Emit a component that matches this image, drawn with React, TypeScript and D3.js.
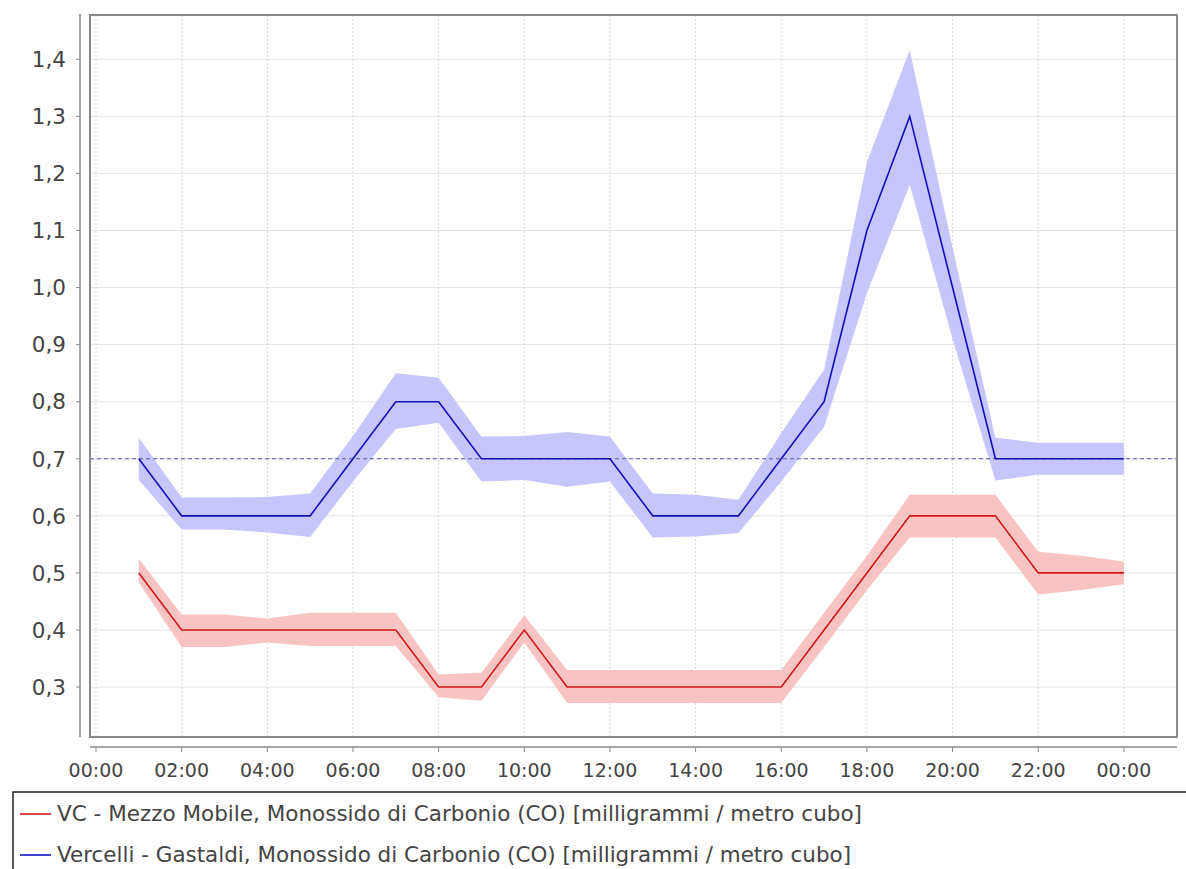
import React from "react";
import * as d3 from "d3";

const hours = [1,2,3,4,5,6,7,8,9,10,11,12,13,14,15,16,17,18,19,20,21,22,23,24];

const vcValues = [0.5,0.4,0.4,0.4,0.4,0.4,0.4,0.3,0.3,0.4,0.3,0.3,0.3,0.3,0.3,0.3,0.4,0.5,0.6,0.6,0.6,0.5,0.5,0.5];
const vcUpper = [0.525,0.427,0.427,0.42,0.43,0.43,0.43,0.322,0.325,0.426,0.33,0.33,0.33,0.33,0.33,0.33,0.43,0.53,0.637,0.637,0.637,0.537,0.53,0.52];
const vcLower = [0.483,0.37,0.37,0.378,0.372,0.372,0.372,0.282,0.276,0.378,0.272,0.272,0.272,0.272,0.272,0.272,0.37,0.47,0.562,0.562,0.562,0.462,0.47,0.48];

const vgValues = [0.7,0.6,0.6,0.6,0.6,0.7,0.8,0.8,0.7,0.7,0.7,0.7,0.6,0.6,0.6,0.7,0.8,1.1,1.3,1.0,0.7,0.7,0.7,0.7];
const vgUpper = [0.737,0.632,0.632,0.633,0.639,0.74,0.85,0.842,0.739,0.74,0.747,0.739,0.639,0.637,0.628,0.745,0.856,1.22,1.416,1.07,0.737,0.728,0.728,0.728];
const vgLower = [0.663,0.576,0.576,0.571,0.563,0.66,0.752,0.763,0.66,0.663,0.651,0.66,0.562,0.564,0.57,0.66,0.756,0.99,1.18,0.91,0.662,0.672,0.672,0.672];

const xTickHours = [0,2,4,6,8,10,12,14,16,18,20,22,24];
const xTickLabels = ["00:00","02:00","04:00","06:00","08:00","10:00","12:00","14:00","16:00","18:00","20:00","22:00","00:00"];
const yTicks = [0.3,0.4,0.5,0.6,0.7,0.8,0.9,1.0,1.1,1.2,1.3,1.4];
const markerValue = 0.7;

const legendLabels = [
  "VC - Mezzo Mobile, Monossido di Carbonio (CO) [milligrammi / metro cubo]",
  "Vercelli - Gastaldi, Monossido di Carbonio (CO) [milligrammi / metro cubo]",
];
const legendColors = ["#d01818", "#1010c0"];

const W = 1186, H = 869;
const plotL = 90, plotR = 1177, plotT = 15, plotB = 737;

export default function App() {
  const x = d3.scaleLinear().domain([-0.14, 25.24]).range([plotL, plotR]);
  const y = d3.scaleLinear().domain([0.2125, 1.4776]).range([plotB, plotT]);

  const area = (up: number[], lo: number[]) =>
    d3.area<number>().x((h) => x(h)).y0((_, i) => y(lo[i])).y1((_, i) => y(up[i]))(hours) || "";
  const line = (v: number[]) =>
    d3.line<number>().x((h) => x(h)).y((_, i) => y(v[i]))(hours) || "";

  const font = "'DejaVu Sans', Verdana, sans-serif";
  const textCol = "#444";
  const legendLens = [805, 794];

  return (
    <svg width={W} height={H} viewBox={`0 0 ${W} ${H}`} style={{ position: "absolute", left: 0, top: 0, background: "#fff" }}>
      <rect x={0} y={0} width={W} height={H} fill="#fff" />
      {yTicks.map((t) => (
        <line key={"hg" + t} x1={plotL} x2={plotR} y1={y(t)} y2={y(t)} stroke="#e4e4e4" strokeWidth={1} />
      ))}
      {xTickHours.map((h, i) => (
        <line key={"vg" + i} x1={x(h)} x2={x(h)} y1={plotT} y2={plotB} stroke="#d8d8d8" strokeWidth={1} strokeDasharray="2,2" />
      ))}
      <path d={area(vgUpper, vgLower)} fill="#c6c6fa" />
      <path d={area(vcUpper, vcLower)} fill="#f8c3c3" />
      <line x1={plotL} x2={plotR} y1={y(markerValue)} y2={y(markerValue)} stroke="#5555aa" strokeWidth={1} strokeDasharray="4,3" />
      <path d={line(vgValues)} fill="none" stroke="#1010b8" strokeWidth={1.6} />
      <path d={line(vcValues)} fill="none" stroke="#d01818" strokeWidth={1.6} />
      <rect x={plotL} y={plotT} width={plotR - plotL} height={plotB - plotT} fill="none" stroke="#8a8a8a" strokeWidth={2} />
      <line x1={80} x2={80} y1={plotT - 1} y2={plotB} stroke="#8a8a8a" strokeWidth={1.5} />
      {yTicks.map((t) => (
        <g key={"yt" + t}>
          <line x1={76} x2={80} y1={y(t)} y2={y(t)} stroke="#8a8a8a" strokeWidth={1} />
          <text x={66} y={y(t)} dy="0.36em" textAnchor="end" fontFamily={font} fontSize={21.5} fill={textCol}>
            {d3.format(".1f")(t).replace(".", ",")}
          </text>
        </g>
      ))}
      <line x1={plotL} x2={plotR} y1={747} y2={747} stroke="#8a8a8a" strokeWidth={1.5} />
      {xTickHours.map((h, i) => (
        <g key={"xt" + i}>
          <line x1={x(h)} x2={x(h)} y1={747} y2={752} stroke="#8a8a8a" strokeWidth={1} />
          <text x={x(h)} y={777} textAnchor="middle" fontFamily={font} fontSize={19} fill={textCol}>
            {xTickLabels[i]}
          </text>
        </g>
      ))}
      <rect x={13} y={792} width={W + 10} height={100} fill="#fff" stroke="#222" strokeWidth={1.5} />
      {legendLabels.map((lab, i) => (
        <g key={"lg" + i}>
          <line x1={20} x2={51} y1={814 + i * 41} y2={814 + i * 41} stroke={legendColors[i]} strokeWidth={1.6} />
          <text x={57} y={814 + i * 41} dy="0.36em" fontFamily={font} fontSize={20.5} fill={textCol}
            textLength={legendLens[i]} lengthAdjust="spacingAndGlyphs">
            {lab}
          </text>
        </g>
      ))}
    </svg>
  );
}
